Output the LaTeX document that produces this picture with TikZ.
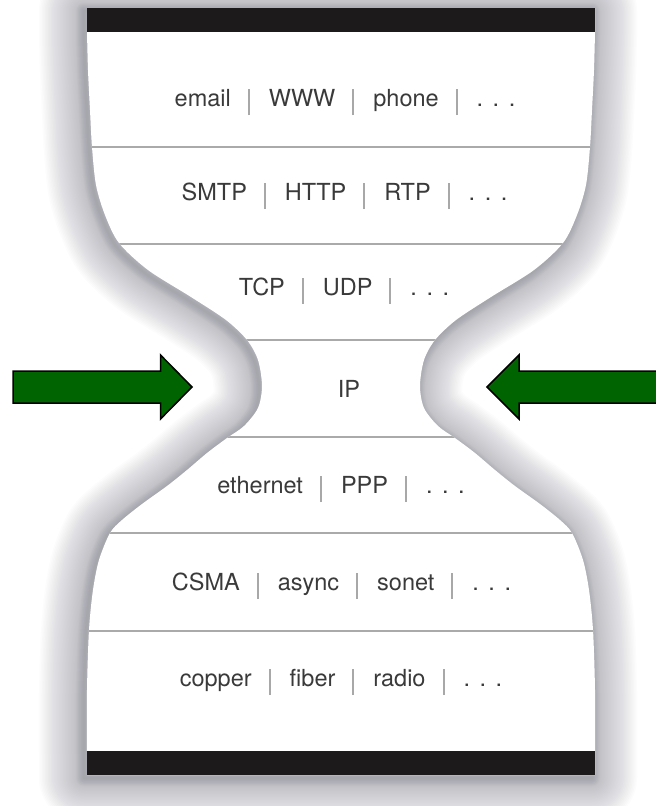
\documentclass[tikz,border=0pt]{standalone}
\usepackage{fontspec}
\setmainfont{TeX Gyre Heros}
\definecolor{txt}{HTML}{3A3A3A}
\definecolor{sepc}{HTML}{A8A8A8}
\definecolor{linec}{HTML}{AAAAAA}
\definecolor{barc}{HTML}{1C1A1A}
\definecolor{shadc}{HTML}{7A7A88}
\definecolor{arrowg}{HTML}{006400}
\newcommand\sepbar{\hspace{17pt}\textcolor{sepc}{\rule[-9pt]{2pt}{26pt}}\hspace{19pt}}
\newcommand\mydots{.\hspace{9.5pt}.\hspace{9.5pt}.}
\newcommand\hgoutline{(87,8) -- (595,8) -- (595,32) -- plot[smooth,tension=0.5] coordinates {(595,32) (594,70) (592,110) (590,147) (586,185) (577,215) (563,243) (534,270) (491,297) (456,320) (435,340) (424,360) (420,386) (424,408) (438,426) (455,438) (475,453) (495,470) (515,486) (540,504) (560,520) (572,533) (583,560) (589,590) (593,630) (595,690) (595,751)} -- (595,775) -- (87,775) -- (87,751) -- plot[smooth,tension=0.5] coordinates {(87,751) (87,690) (89,630) (93,590) (99,560) (110,533) (122,520) (142,504) (167,486) (187,470) (207,453) (227,438) (244,426) (258,408) (262,386) (258,360) (247,340) (226,320) (191,297) (148,270) (119,243) (105,215) (96,185) (92,147) (90,110) (88,70) (87,32)} -- cycle}
\tikzset{
  rowtext/.style={anchor=base, text=txt, font=\fontsize{23.5}{28}\selectfont, inner sep=0pt},
  bigarrow/.style={fill=arrowg, draw=black, line width=1.5pt, line join=miter},
  layerline/.style={draw=linec, line width=2.5pt},
  endbar/.style={fill=barc, draw=none},
  softshadow/.style={draw=shadc, line join=round}
}
\begin{document}
\begin{tikzpicture}[x=1pt,y=-1pt]
\useasboundingbox (0,0) rectangle (656,806);
\fill[white] (0,0) rectangle (656,806);
% shadow
\begin{scope}[shift={(-3,3)}]
\foreach \w in {3,6,...,90}{
  \draw[softshadow, draw opacity=0.02, line width=\w pt] \hgoutline;
}
\foreach \w in {2,4,...,16}{
  \draw[softshadow, draw opacity=0.035, line width=\w pt] \hgoutline;
}
\end{scope}
% white body
\fill[white] \hgoutline;
% layer lines
\begin{scope}
  \clip \hgoutline;
  \foreach \yy in {147,244,340,437,533,631}{
    \draw[layerline] (0,\yy) -- (656,\yy);
  }
\end{scope}
% end bars
\fill[endbar] (87,8) rectangle (595,32);
\fill[endbar] (87,751) rectangle (595,775);
% texts
\node[rowtext] (app) at (345,106) {email\sepbar WWW\sepbar phone\sepbar\mydots};
\node[rowtext] (appproto) at (344.5,200) {SMTP\sepbar HTTP\sepbar RTP\sepbar\mydots};
\node[rowtext] (transport) at (344,295) {TCP\sepbar UDP\sepbar\mydots};
\node[rowtext] (ip) at (349,397) {IP};
\node[rowtext] (link) at (341,493) {ethernet\sepbar PPP\sepbar\mydots};
\node[rowtext] (mac) at (341.5,590) {CSMA\sepbar async\sepbar sonet\sepbar\mydots};
\node[rowtext] (phys) at (341,686) {copper\sepbar fiber\sepbar radio\sepbar\mydots};
% arrows
\draw[bigarrow] (13,371) -- (160.5,371) -- (160.5,355) -- (192,387) -- (160.5,419) -- (160.5,403) -- (13,403) -- cycle;
\draw[bigarrow] (660,371) -- (519,371) -- (519,355) -- (487,387) -- (519,419) -- (519,403) -- (660,403) -- cycle;
\end{tikzpicture}
\end{document}
